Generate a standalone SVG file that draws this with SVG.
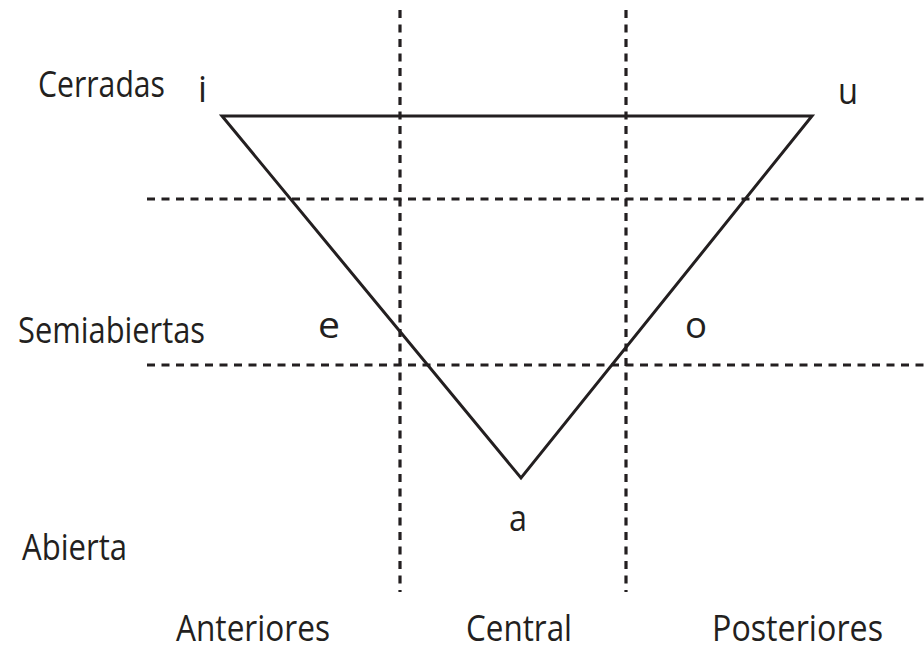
<svg xmlns="http://www.w3.org/2000/svg" width="924" height="664" viewBox="0 0 924 664">
<style>
.t{font-family:"Open Sans","Noto Sans","Liberation Sans",sans-serif;font-size:36px;fill:#231f20}
.d{stroke:#231f20;stroke-width:3.2;stroke-dasharray:8 6.5;fill:none}
.s{stroke:#231f20;stroke-width:3;fill:none;stroke-linejoin:miter}
</style>
<rect width="924" height="664" fill="#fff"/>
<g id="grid">
<line class="d" x1="400" y1="10" x2="400" y2="592"/>
<line class="d" x1="626" y1="10" x2="626" y2="592"/>
<line class="d" x1="147" y1="199" x2="924" y2="199"/>
<line class="d" x1="147" y1="365" x2="924" y2="365"/>
</g>
<g id="triangle">
<polygon class="s" points="222,116 812,116 521,478"/>
</g>
<g id="vowels">
<text class="t" x="198" y="102" textLength="9" lengthAdjust="spacingAndGlyphs">i</text>
<text class="t" x="838" y="104" textLength="20" lengthAdjust="spacingAndGlyphs">u</text>
<text class="t" x="318" y="338" textLength="22" lengthAdjust="spacingAndGlyphs">e</text>
<text class="t" x="685" y="338" textLength="22" lengthAdjust="spacingAndGlyphs">o</text>
<text class="t" x="509" y="531" textLength="18" lengthAdjust="spacingAndGlyphs">a</text>
</g>
<g id="rows">
<text class="t" x="38" y="97" textLength="127" lengthAdjust="spacingAndGlyphs">Cerradas</text>
<text class="t" x="18" y="343" textLength="187" lengthAdjust="spacingAndGlyphs">Semiabiertas</text>
<text class="t" x="22" y="560" textLength="105" lengthAdjust="spacingAndGlyphs">Abierta</text>
</g>
<g id="cols">
<text class="t" x="176" y="641" textLength="154" lengthAdjust="spacingAndGlyphs">Anteriores</text>
<text class="t" x="466" y="641" textLength="106" lengthAdjust="spacingAndGlyphs">Central</text>
<text class="t" x="712" y="641" textLength="171" lengthAdjust="spacingAndGlyphs">Posteriores</text>
</g>
</svg>
